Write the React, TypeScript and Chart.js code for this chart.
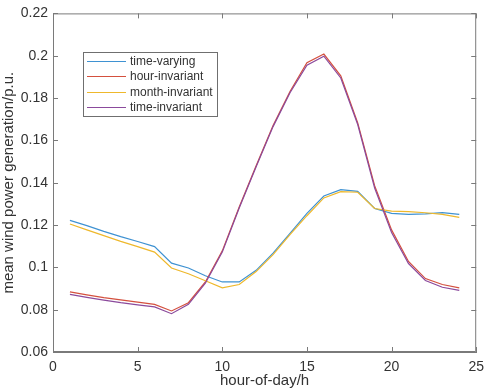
import React, { useEffect, useRef } from "react";
import { Chart, registerables } from "chart.js";

Chart.register(...registerables);

const hours = [1, 2, 3, 4, 5, 6, 7, 8, 9, 10, 11, 12, 13, 14, 15, 16, 17, 18, 19, 20, 21, 22, 23, 24];

const timeVarying = [
  0.1222, 0.1197, 0.117, 0.1145, 0.1122, 0.1098, 0.102, 0.0997, 0.096, 0.0931, 0.0931, 0.0986,
  0.1067, 0.1161, 0.1255, 0.1337, 0.1367, 0.1359, 0.1278, 0.1255, 0.125, 0.1253, 0.1259, 0.125,
];
const hourInvariant = [
  0.0884, 0.087, 0.0857, 0.0846, 0.0836, 0.0825, 0.0794, 0.0833, 0.0931, 0.1078, 0.1285, 0.148,
  0.167, 0.1831, 0.1967, 0.2008, 0.1905, 0.1683, 0.1386, 0.1177, 0.1028, 0.0947, 0.0919, 0.0903,
];
const monthInvariant = [
  0.1205, 0.1177, 0.115, 0.1123, 0.1098, 0.1072, 0.0997, 0.097, 0.0937, 0.0903, 0.0919, 0.098,
  0.106, 0.1155, 0.1244, 0.1328, 0.1358, 0.1355, 0.1278, 0.1266, 0.1263, 0.1258, 0.125, 0.1236,
];
const timeInvariant = [
  0.0872, 0.0858, 0.0845, 0.0833, 0.0823, 0.0813, 0.0781, 0.0825, 0.0925, 0.1072, 0.128, 0.1475,
  0.1665, 0.1825, 0.1955, 0.1998, 0.1895, 0.1675, 0.1375, 0.1165, 0.1018, 0.0938, 0.0906, 0.0891,
];

const seriesLabels = ["time-varying", "hour-invariant", "month-invariant", "time-invariant"];
const seriesColors = ["#3f92d2", "#d4503e", "#eeb82c", "#8b4a9c"];
const seriesValues = [timeVarying, hourInvariant, monthInvariant, timeInvariant];

const xTitle = "hour-of-day/h";
const yTitle = "mean wind power generation/p.u.";

const FONT = "'Liberation Sans', Arial, Helvetica, sans-serif";
const AXIS_COLOR = "#7a7a7a";
const TEXT_COLOR = "#333333";

const boxAndTicks = {
  id: "boxAndTicks",
  afterDatasetsDraw(chart: any) {
    const { ctx, chartArea } = chart;
    const { left, right, top, bottom } = chartArea;
    ctx.save();
    ctx.strokeStyle = AXIS_COLOR;
    ctx.lineWidth = 1;
    ctx.beginPath();
    ctx.rect(left + 0.5, top + 0.5, right - left - 1, bottom - top - 1);
    ctx.stroke();
    const tl = 5;
    const xs = chart.scales.x;
    const ys = chart.scales.y;
    ctx.beginPath();
    xs.ticks.forEach((t: any) => {
      const px = Math.round(xs.getPixelForValue(t.value)) + 0.5;
      ctx.moveTo(px, bottom);
      ctx.lineTo(px, bottom - tl);
      ctx.moveTo(px, top);
      ctx.lineTo(px, top + tl);
    });
    ys.ticks.forEach((t: any) => {
      const py = Math.round(ys.getPixelForValue(t.value)) + 0.5;
      ctx.moveTo(left, py);
      ctx.lineTo(left + tl, py);
      ctx.moveTo(right, py);
      ctx.lineTo(right - tl, py);
    });
    ctx.stroke();
    ctx.restore();
  },
};

const insideLegend = {
  id: "insideLegend",
  afterDraw(chart: any) {
    const { ctx } = chart;
    const bx = 83.5;
    const by = 52.5;
    const bw = 134;
    const bh = 64;
    ctx.save();
    ctx.fillStyle = "#ffffff";
    ctx.fillRect(bx, by, bw, bh);
    ctx.strokeStyle = "#6f6f6f";
    ctx.lineWidth = 1;
    ctx.strokeRect(bx, by, bw, bh);
    ctx.font = `12px ${FONT}`;
    ctx.textBaseline = "middle";
    ctx.textAlign = "left";
    chart.data.datasets.forEach((ds: any, i: number) => {
      const y = Math.round(61 + i * 15.3) + 0.5;
      ctx.strokeStyle = seriesColors[i];
      ctx.lineWidth = 1.2;
      ctx.beginPath();
      ctx.moveTo(87, y);
      ctx.lineTo(126, y);
      ctx.stroke();
      ctx.fillStyle = TEXT_COLOR;
      ctx.fillText(ds.label, 130, y);
    });
    ctx.restore();
  },
};

export default function App() {
  const ref = useRef<HTMLCanvasElement | null>(null);

  useEffect(() => {
    if (!ref.current) return;
    const datasets = seriesValues.map((vals, i) => ({
      label: seriesLabels[i],
      data: hours.map((h, j) => ({ x: h, y: vals[j] })),
      borderColor: seriesColors[i],
      backgroundColor: seriesColors[i],
      borderWidth: 1.2,
      pointRadius: 0,
      tension: 0,
      fill: false,
      order: seriesValues.length - 1 - i,
    }));
    const chart = new Chart(ref.current, {
      type: "line",
      data: { datasets },
      options: {
        animation: false,
        responsive: false,
        layout: { padding: { left: 0, right: 7, top: 10, bottom: 0 } },
        plugins: { legend: { display: false }, tooltip: { enabled: false } },
        scales: {
          x: {
            type: "linear",
            min: 0,
            max: 25,
            ticks: {
              stepSize: 5,
              color: TEXT_COLOR,
              font: { family: FONT, size: 14 },
              padding: 7,
              maxRotation: 0,
            },
            grid: { drawOnChartArea: false, drawTicks: false },
            border: { display: true, color: AXIS_COLOR },
            title: {
              display: true,
              text: xTitle,
              color: TEXT_COLOR,
              font: { family: FONT, size: 15 },
              padding: { top: 0, bottom: 0 },
            },
            afterFit(scale: any) {
              scale.height = 38;
            },
          },
          y: {
            type: "linear",
            min: 0.06,
            max: 0.22,
            ticks: {
              stepSize: 0.02,
              color: TEXT_COLOR,
              font: { family: FONT, size: 14 },
              padding: 5,
              callback: (v: any) => String(Number(Number(v).toFixed(2))),
            },
            grid: { drawOnChartArea: false, drawTicks: false },
            border: { display: true, color: AXIS_COLOR },
            title: {
              display: true,
              text: yTitle,
              color: TEXT_COLOR,
              font: { family: FONT, size: 15 },
              padding: { top: 0, bottom: 0 },
            },
            afterFit(scale: any) {
              scale.width = 53;
            },
          },
        },
      },
      plugins: [boxAndTicks, insideLegend],
    });
    return () => chart.destroy();
  }, []);

  return (
    <div style={{ position: "absolute", left: 0, top: 0, width: 491, height: 390, background: "#fff" }}>
      <canvas ref={ref} width={491} height={390} style={{ display: "block" }} />
    </div>
  );
}
